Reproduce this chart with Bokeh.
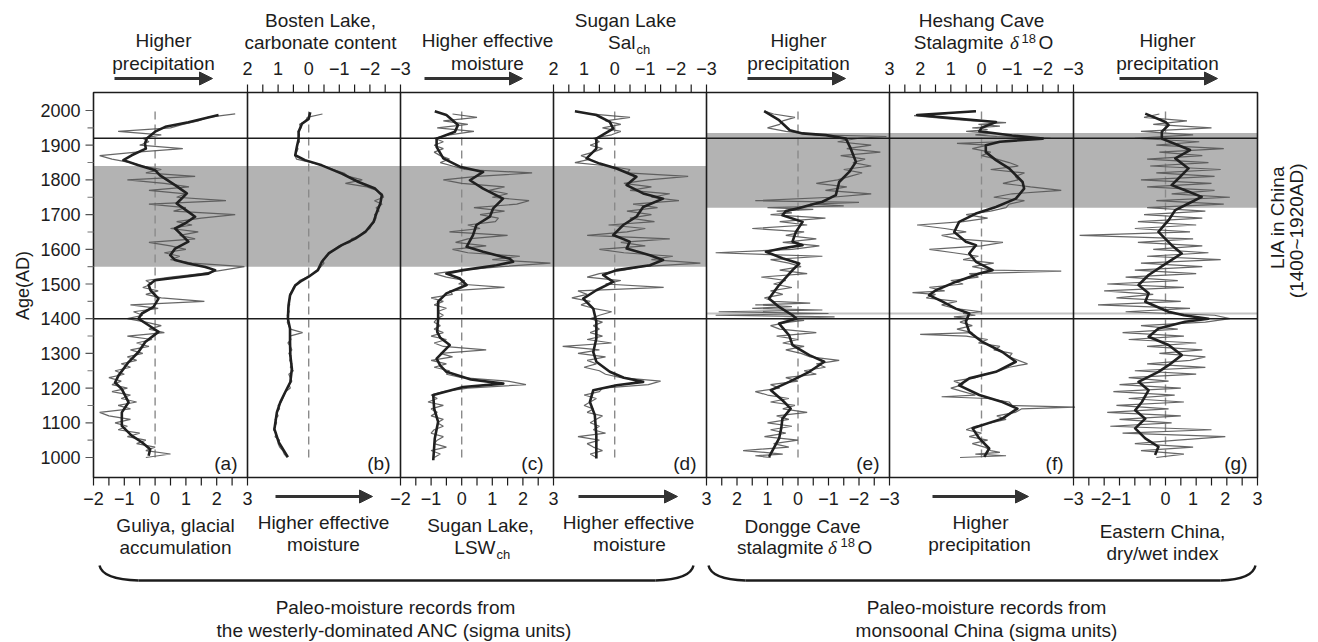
from math import pi
import numpy as np
from bokeh.plotting import figure
from bokeh.models import Range1d, Arrow, NormalHead
from bokeh.embed import file_html
from bokeh.resources import INLINE
from bokeh.core.properties import value

W, H = 1318, 642

# ------------------------------------------------------------------ data
DECADES = list(range(1000, 2000, 10))

# (a) Guliya glacial accumulation
A_RAW = [-0.3, 0.5, -0.3, 0.0, -0.6, -0.3, -0.9, -0.5, -1.2, -0.9,
         -1.3, -0.8, -1.5, -1.8, -0.8, -1.2, -0.6, -1.1, -0.8, -1.4,
         -0.9, -1.4, -1.1, -1.5, -1.0, -1.3, -0.8, -1.1, -0.6, -0.9,
         -0.4, -0.8, -0.2, -0.6, -0.1, -0.9, 0.3, -0.2, 0.2, -0.3,
         -0.9, -0.4, -0.7, 0.1, -0.8, 1.6, 0.2, -0.3, 0.1, -0.4,
         -0.1, -0.3, 0.5, 1.5, 2.2, 2.9, 1.2, 0.5, 0.8, 0.3,
         1.0, 0.5, -0.2, 1.3, 0.8, 1.4, 0.5, 1.2, 0.7, 1.5,
         2.6, 0.6, 1.0, -0.2, 2.3, 0.7, 1.0, -0.2, 1.1, 0.3,
         -0.9, 1.3, -0.3, 0.2, -0.4, -0.8, -1.4, -1.8, -0.6, 0.9,
         -0.5, -0.2, -0.4, 0.2, -1.2, 0.5, 0.9, 1.4, 1.7, 2.6]
A_SM_YR = [1005, 1024, 1044, 1063, 1091, 1130, 1159, 1197, 1216, 1236, 1275, 1304, 1333, 1362,
           1381, 1400, 1415, 1434, 1458, 1482, 1497, 1511, 1520, 1530, 1540, 1549, 1559, 1569,
           1583, 1602, 1622, 1641, 1660, 1675, 1694, 1708, 1732, 1761, 1785, 1813, 1828, 1842,
           1857, 1871, 1890, 1905, 1919, 1939, 1953, 1966, 1987]
A_SM = [-0.21, -0.16, -0.43, -0.76, -1.08, -1.08, -0.86, -1.08, -1.3, -1.19, -0.86, -0.54, -0.32, 0.11,
        -0.21, -0.54, -0.43, -0.05, 0.11, -0.15, -0.21, 0.0, 0.87, 1.73, 1.95, 1.63, 1.08, 0.65,
        0.49, 0.65, 1.08, 0.87, 0.65, 0.98, 1.3, 1.08, 0.7, 1.03, 0.65, 0.16, 0.0, -0.54,
        -1.03, -0.76, -0.3, -0.33, -0.27, 0.0, 0.33, 1.08, 2.06]

# (b) Bosten Lake carbonate content
B_RAW = [0.7, 0.8, 0.85, 0.95, 1.0, 0.95, 1.1, 1.05, 1.15, 1.1,
         1.05, 1.1, 1.0, 1.05, 0.95, 1.0, 0.9, 0.85, 0.8, 0.75,
         0.6, 0.65, 0.55, 0.6, 0.65, 0.5, 0.6, 0.55, 0.62, 0.58,
         0.65, 0.55, 0.6, 0.68, 0.58, 0.62, 0.2, 0.6, 0.65, 0.7,
         0.66, 0.7, 0.64, 0.68, 0.62, 0.66, 0.6, 0.62, 0.55, 0.5,
         0.4, 0.3, 0.05, -0.15, -0.3, -0.4, -0.5, -0.45, -0.6, -0.7,
         -0.85, -1.0, -1.35, -1.4, -1.7, -1.8, -2.0, -2.05, -2.15, -2.2,
         -2.15, -2.3, -2.2, -2.4, -2.15, -2.45, -2.4, -2.2, -1.9, -1.2,
         -1.75, -1.3, -1.15, -0.8, -0.5, -0.1, 0.4, 0.45, 0.4, 0.35,
         0.4, 0.3, 0.35, 0.3, 0.35, 0.25, 0.3, 0.1, 0.05, -0.45]
B_SM_YR = [1001, 1044, 1082, 1130, 1159, 1188, 1217, 1256, 1294, 1333, 1371, 1400, 1438, 1467,
           1496, 1510, 1521, 1540, 1564, 1588, 1612, 1631, 1650, 1679, 1708, 1732, 1756, 1775,
           1794, 1818, 1842, 1857, 1871, 1894, 1918, 1939, 1962, 1976, 1995]
B_SM = [0.68, 0.98, 1.12, 1.04, 0.93, 0.77, 0.6, 0.55, 0.6, 0.61, 0.61, 0.68, 0.66, 0.61,
        0.44, 0.22, 0.0, -0.3, -0.43, -0.65, -1.08, -1.52, -1.85, -2.12, -2.23, -2.34, -2.39, -2.17,
        -1.63, -1.08, -0.43, 0.12, 0.44, 0.39, 0.33, 0.33, 0.22, 0.0, -0.05]

# (c) Sugan Lake LSWch
C_RAW = [-0.9, -0.7, -1.0, -0.5, -0.9, -0.8, -0.6, -1.0, -0.9, -0.6,
         -0.8, -0.6, -1.0, -0.8, -1.0, -0.6, -1.1, -0.8, -1.0, -0.6,
         0.2, 2.1, 1.5, 0.0, -0.5, -0.4, -0.9, -0.5, -1.0, -0.3,
         -0.7, 0.8, -0.6, -0.9, -0.5, -1.0, -0.6, -0.9, -0.7, -0.9,
         -0.8, -0.6, -0.8, -0.5, -0.9, -0.6, -1.0, -0.3, -0.4, 1.4,
         -0.1, 0.1, -0.5, -0.9, 0.0, 1.3, 2.9, 1.0, 1.9, 0.2,
         -0.3, 0.8, -0.2, 0.2, 1.5, -0.4, 0.6, 0.2, 1.1, 1.2,
         0.6, 1.4, 0.4, 1.8, 2.2, 1.0, 1.5, 0.9, 1.4, 0.0,
         -0.6, 0.5, 2.3, 0.1, -0.3, -0.7, -0.4, -0.7, -0.9, -0.6,
         -0.9, -0.6, -0.9, -0.4, 0.4, -0.8, 0.2, -0.6, 0.5, -0.3]
C_SM_YR = [992, 1055, 1103, 1141, 1180, 1203, 1213, 1225, 1247, 1265, 1285, 1305, 1324, 1345,
           1362, 1400, 1449, 1473, 1497, 1516, 1530, 1540, 1554, 1564, 1573, 1593, 1607, 1641,
           1670, 1694, 1718, 1746, 1775, 1799, 1823, 1838, 1862, 1895, 1919, 1939, 1958, 1987, 1998]
C_SM = [-0.93, -0.88, -0.77, -0.9, -0.93, 0.05, 1.36, 0.3, -0.5, -0.7, -0.82, -0.6, -0.39, -0.7,
        -0.8, -0.77, -0.77, -0.5, 0.16, -0.06, -0.5, 0.05, 1.14, 1.68, 1.57, 0.7, 0.16, 0.37,
        0.48, 0.92, 1.03, 1.35, 0.7, 0.27, 0.7, -0.06, -0.6, -0.82, -0.82, -0.22, -0.12, -0.5, -0.88]

# (d) Sugan Lake Salch
D_RAW = [0.6, 0.8, 0.4, 0.7, 0.9, 0.5, 1.2, 0.3, 0.7, 0.5,
         0.8, 0.6, 0.4, 0.9, 0.7, 1.0, 0.8, 0.6, 1.0, 0.5,
         0.4, -1.1, -1.5, -0.2, 0.3, 0.5, 1.0, 0.6, 0.9, 0.3,
         1.2, 0.5, 1.7, 0.1, 0.9, 0.4, 0.8, 0.5, 0.7, 0.4,
         0.8, 0.5, 0.1, 0.7, 1.1, 0.8, 1.4, 0.9, 1.2, -1.6,
         0.3, -0.2, 0.9, 0.5, -0.3, -0.9, -2.8, -1.2, -1.9, -0.3,
         0.5, -1.0, -0.2, -1.8, 0.9, -0.4, -1.0, 0.2, -1.3, -0.5,
         -1.2, -0.4, -1.4, -0.6, -2.1, -1.2, -1.8, -0.5, -1.2, -0.3,
         -1.1, -2.4, -0.4, -0.5, 0.2, 1.3, 0.8, 1.1, 0.7, 0.4,
         0.8, 0.5, 0.7, 0.1, -0.2, 0.4, -0.2, 0.3, -0.5, 0.8]
D_SM_YR = [997, 1064, 1122, 1160, 1194, 1208, 1218, 1230, 1247, 1276, 1304, 1343, 1391, 1429,
           1458, 1482, 1506, 1526, 1540, 1554, 1569, 1583, 1602, 1622, 1641, 1670, 1694, 1722,
           1746, 1761, 1785, 1809, 1833, 1847, 1862, 1890, 1919, 1948, 1967, 1987, 1998]
D_SM = [0.6, 0.6, 0.65, 0.81, 0.7, -0.06, -0.93, -0.3, 0.16, 0.6, 0.7, 0.6, 0.6, 0.7,
        1.03, 0.6, 0.05, 0.38, -0.06, -1.15, -1.58, -1.15, -0.39, -0.49, 0.05, -0.28, -0.71, -0.93,
        -1.58, -0.93, -0.39, -0.71, -0.06, 0.49, 0.92, 0.6, 0.6, 0.05, 0.16, 0.6, 1.3]

# (e) Dongge Cave stalagmite d18O
E_RAW_YR = [1000, 1005, 1010, 1020, 1030, 1040, 1050, 1060, 1070, 1080,
            1090, 1100, 1110, 1120, 1130, 1140, 1150, 1160, 1170, 1180,
            1190, 1200, 1210, 1220, 1230, 1240, 1250, 1260, 1270, 1280,
            1290, 1300, 1310, 1320, 1330, 1340, 1350, 1360, 1370, 1380,
            1390, 1395, 1400, 1405, 1410, 1415, 1420, 1425, 1430, 1435,
            1440, 1445, 1450, 1460, 1470, 1480, 1490, 1500, 1510, 1520,
            1530, 1540, 1550, 1560, 1570, 1580, 1590, 1600, 1610, 1620,
            1630, 1640, 1650, 1660, 1670, 1680, 1690, 1700, 1705, 1710,
            1715, 1720, 1725, 1730, 1735, 1740, 1750, 1760, 1770, 1780,
            1790, 1800, 1810, 1820, 1830, 1840, 1850, 1860, 1870, 1880,
            1890, 1900, 1910, 1920, 1925, 1930, 1940, 1950, 1960, 1970,
            1980, 1990, 1998]
E_RAW = [0.9, 1.4, 0.5, 1.8, 0.3, 0.8, 0.0, 1.1, 0.4, 0.9,
         0.2, 1.0, 0.3, 0.7, -0.3, 0.5, 0.1, 0.9, 0.3, 1.0,
         1.4, 0.6, 0.9, 0.0, 0.4, -0.6, -0.2, -0.9, -0.6, -1.35,
         -0.4, -0.1, 0.4, -0.2, 0.5, 0.0, 0.7, -0.6, 0.6, 0.9,
         0.3, -0.2, 0.5, -1.2, 2.7, -1.0, 2.6, -0.8, 1.5, 0.2,
         1.4, -0.4, 0.8, 1.1, 0.5, 0.9, 0.2, 0.8, 0.4, 1.2,
         -0.3, 0.6, -0.1, 0.3, 0.9, -0.8, 2.7, 0.2, -0.7, 0.5,
         -0.6, 0.4, -0.2, 1.5, -0.3, 0.6, -0.9, 0.9, 0.2, 0.7,
         -0.5, 1.0, -1.5, -0.4, -2.0, 1.4, -1.1, -2.4, -0.9, -1.6,
         -0.6, -1.3, -1.7, -2.1, -1.5, -2.4, -1.8, -2.2, -1.4, -2.7,
         -1.6, -2.4, -1.3, -2.0, -2.9, -0.6, 0.4, 1.0, 0.6, 0.5,
         0.1, 0.8, 1.1]
E_SM_YR = [1002, 1055, 1084, 1112, 1141, 1165, 1194, 1218, 1247, 1276, 1295, 1324, 1352, 1386,
           1400, 1410, 1434, 1458, 1497, 1540, 1559, 1574, 1593, 1603, 1612, 1622, 1650, 1679,
           1698, 1710, 1719, 1727, 1737, 1756, 1794, 1823, 1852, 1890, 1919, 1929, 1934, 1943,
           1972, 1998]
E_SM = [0.95, 0.62, 0.55, 0.51, 0.24, 0.51, 0.89, 0.29, -0.37, -0.86, -0.37, 0.18, 0.29, 0.62,
        0.05, 0.18, 0.62, 0.95, 0.62, 0.18, -0.04, 0.51, 1.05, 0.5, -0.15, 0.18, 0.07, -0.15,
        0.51, 0.4, -0.04, -0.37, -0.8, -1.24, -1.35, -1.68, -1.9, -1.73, -1.57, -0.91, -0.15, 0.27,
        0.62, 1.11]

# (f) Heshang Cave stalagmite d18O
F_RAW_YR = [1000, 1005, 1010, 1015, 1020, 1030, 1040, 1050, 1060, 1070,
            1080, 1090, 1100, 1110, 1120, 1130, 1140, 1145, 1150, 1160,
            1170, 1175, 1180, 1190, 1200, 1210, 1220, 1230, 1240, 1250,
            1260, 1270, 1280, 1290, 1300, 1310, 1320, 1330, 1340, 1350,
            1355, 1360, 1370, 1380, 1390, 1400, 1405, 1410, 1415, 1420,
            1430, 1440, 1450, 1460, 1470, 1475, 1480, 1490, 1500, 1510,
            1520, 1530, 1537, 1540, 1550, 1560, 1570, 1580, 1590, 1600,
            1610, 1620, 1630, 1640, 1650, 1660, 1670, 1680, 1690, 1700,
            1710, 1720, 1730, 1740, 1750, 1760, 1770, 1780, 1790, 1800,
            1810, 1820, 1830, 1840, 1850, 1860, 1870, 1880, 1890, 1900,
            1905, 1910, 1915, 1920, 1925, 1930, 1935, 1940, 1945, 1950,
            1955, 1960, 1965, 1970, 1975, 1980, 1985, 1990, 1995, 1998]
F_RAW = [0.7, -0.8, 0.2, -0.6, -0.3, -0.1, 0.3, -0.2, 0.4, 0.0,
         0.5, 0.2, -0.3, -0.8, -0.5, -1.1, -1.3, -3.05, -1.0, -0.9,
         -0.2, 1.3, 0.2, 0.6, 1.0, 0.6, 0.9, 0.2, -0.1, -0.6,
         -0.9, -1.5, -1.2, -0.9, -1.0, -0.4, -0.6, 0.1, -0.2, 0.5,
         2.0, 0.3, 0.8, 0.3, 0.7, 0.4, 0.9, 0.2, 0.6, 0.0,
         0.9, 1.3, 0.8, 1.8, 1.5, 2.25, 1.2, 1.7, 0.6, 1.0,
         0.1, 0.4, -2.6, -0.3, 0.3, -0.4, 0.6, 0.1, 0.9, 1.7,
         0.0, -0.7, 0.8, 1.3, 0.5, 1.2, 2.1, 0.6, -0.2, 0.5,
         -0.3, -0.8, -0.9, -1.4, -0.4, -1.0, -2.6, -1.6, -0.7, -1.2,
         -1.1, -1.4, -0.3, -1.2, -0.9, -0.5, 0.0, -0.3, 0.3, -0.2,
         0.8, -0.6, -1.3, -2.26, -0.5, 0.2, -0.3, 0.5, -0.2, 0.3,
         -0.6, 0.1, -0.8, 0.3, 1.0, 1.6, 2.2, 1.2, 0.8, 0.2]
F_SM_YR = [1002, 1026, 1055, 1084, 1112, 1141, 1160, 1180, 1208, 1228, 1247, 1276, 1304, 1333,
           1362, 1391, 1415, 1429, 1449, 1468, 1482, 1506, 1530, 1540, 1564, 1588, 1612, 1622,
           1650, 1679, 1703, 1722, 1746, 1775, 1794, 1833, 1857, 1880, 1900, 1910, 1919, 1928,
           1940, 1950, 1967, 1987, 1998]
F_SM = [-0.09, -0.25, 0.07, 0.29, -0.68, -1.17, -0.68, 0.07, 0.73, 0.4, -0.47, -1.12, -0.68, -0.03,
        0.4, 0.51, 0.4, 0.84, 1.27, 1.71, 1.49, 0.84, 0.07, -0.36, 0.18, 0.4, 0.18, 0.51,
        0.89, 0.73, 0.18, -0.47, -1.12, -1.39, -1.34, -0.9, -0.47, -0.14, -0.14, -0.6, -2.0, -1.0,
        0.07, 0.0, -0.47, 2.1, 0.18]

# (g) Eastern China dry/wet index
G_RAW = [-0.3, 0.6, -0.8, 0.9, -1.0, 0.4, 1.95, -1.4, 1.5, -1.8,
         0.2, -1.5, 0.5, -1.9, 0.1, -1.6, 0.6, -1.2, 0.3, -1.7,
         0.5, -1.5, 0.1, -1.2, 1.0, -1.0, 1.3, -0.6, 0.8, 1.3,
         -0.2, 1.2, -0.6, 1.0, -1.2, 0.6, -1.4, 0.4, -0.8, 1.3,
         2.1, 1.6, -1.3, 0.8, -2.2, 0.5, -1.6, -0.4, -2.0, 0.6,
         -1.9, 0.4, -1.3, 1.0, -1.0, 1.2, -0.8, 1.8, -0.6, 1.4,
         -0.4, 1.2, -0.9, 0.9, -2.8, 0.8, -1.0, 1.0, -0.9, 1.2,
         -0.7, 1.3, -0.6, 1.9, -0.3, 2.1, 0.2, 1.6, -0.6, 1.5,
         -0.8, 1.6, -0.3, 1.8, -0.5, 1.4, -0.6, 1.2, -0.2, 1.9,
         -0.3, 1.1, -1.0, 0.9, -0.8, 1.5, -0.4, 0.7, -0.7, -0.2]
G_SM_YR = [1007, 1031, 1055, 1084, 1112, 1136, 1160, 1194, 1218, 1247, 1266, 1295, 1324, 1348,
           1372, 1391, 1400, 1410, 1420, 1449, 1473, 1497, 1526, 1564, 1588, 1612, 1650, 1684,
           1713, 1732, 1751, 1770, 1785, 1804, 1833, 1862, 1886, 1900, 1919, 1939, 1958, 1967, 1991]
G_SM = [-0.34, -0.23, -0.66, -0.99, -0.66, -0.99, -0.77, -0.55, -0.88, -0.23, 0.1, 0.53, 0.1, -0.55,
        -0.23, 0.64, 1.4, 0.6, 0.1, -0.66, -0.55, -0.88, -0.55, 0.1, 0.53, 0.2, -0.23, 0.1,
        0.32, 0.75, 1.18, 0.64, 0.2, 0.42, 0.75, 0.32, 0.8, 0.42, -0.12, -0.12, 0.1, 0.0, -0.66]

# tick labels
TICKS_A = [-2, -1, 0, 1, 2, 3]
TICKS_B = [2, 1, 0, -1, -2, -3]
TICKS_C = [-2, -1, 0, 1, 2, 3]
TICKS_D = [2, 1, 0, -1, -2, -3]
TICKS_E = [3, 2, 1, 0, -1, -2, -3]
TICKS_F = [3, 2, 1, 0, -1, -2, -3]
TICKS_G = [-3, -2, -1, 0, 1, 2, 3]
TICKS_G_POS = [-3, -2.1, -1.45, 0, 0.9, 1.95, 3]
AGE_TICKS = list(range(1000, 2001, 100))
AGE_MINOR = list(range(1050, 2000, 100))

LIA_LINES = [1400, 1920]
BAND_WEST = (1550, 1840)
BAND_MONSOON = (1720, 1935)
THIN_LINE_MONSOON = 1415

# ------------------------------------------------------------------ layout
Y2000, Y1000 = 110, 457
FT, FB, FL, FR = 92, 477, 93, 1257
PANELS = [  # name, left px, right px, value at left, value at right, tick side
    ("a", 93, 247, -2, 3, "bottom"),
    ("b", 247, 400, 2, -3, "top"),
    ("c", 400, 553, -2, 3, "bottom"),
    ("d", 553, 706, 2, -3, "top"),
    ("e", 706, 889, 3, -3, "bottom"),
    ("f", 889, 1073, 3, -3, "top"),
    ("g", 1073, 1257, -3, 3, "bottom"),
]
SERIES = {
    "a": (DECADES, A_RAW, A_SM_YR, A_SM),
    "b": (DECADES, B_RAW, B_SM_YR, B_SM),
    "c": (DECADES, C_RAW, C_SM_YR, C_SM),
    "d": (DECADES, D_RAW, D_SM_YR, D_SM),
    "e": (E_RAW_YR, E_RAW, E_SM_YR, E_SM),
    "f": (F_RAW_YR, F_RAW, F_SM_YR, F_SM),
    "g": (DECADES, G_RAW, G_SM_YR, G_SM),
}
TICKLABELS = {"a": (TICKS_A, TICKS_A), "b": (TICKS_B, TICKS_B), "c": (TICKS_C, TICKS_C),
              "d": (TICKS_D, TICKS_D), "e": (TICKS_E, TICKS_E), "f": (TICKS_F, TICKS_F),
              "g": (TICKS_G, TICKS_G_POS)}

INK = "#1c1c1c"
RAW_C = "#555555"
SM_C = "#202020"
BAND_C = "#b3b3b3"
FONT = value("Liberation Sans")

p = figure(width=W, height=H, x_range=Range1d(0, W), y_range=Range1d(H, 0),
           output_backend="svg", toolbar_location=None, min_border=0,
           x_axis_type=None, y_axis_type=None)
p.outline_line_color = None
p.background_fill_color = "white"
p.border_fill_color = "white"

ppy = (Y1000 - Y2000) / 1000.0
p.extra_y_ranges = {"age": Range1d(start=1000 - (H - Y1000) / ppy, end=2000 + Y2000 / ppy)}
xr = {}
for name, L, R, v0, v1, side in PANELS:
    k = (v1 - v0) / (R - L)
    xr[name] = Range1d(start=v0 - L * k, end=v0 + (W - L) * k)
p.extra_x_ranges = xr


def txt(x, y, s, size=19, align="center", baseline="middle", angle=0.0, font=FONT,
        style="normal", **kw):
    p.text(x=[x], y=[y], text=[s], text_font=font, text_font_size=f"{size}px",
           text_align=align, text_baseline=baseline, angle=angle, text_color=INK,
           text_font_style=style, **kw)


def fmt(v):
    return ("\u2212" + str(abs(v))) if v < 0 else str(v)


# shaded bands
for name, L, R, v0, v1, side in PANELS:
    band = BAND_WEST if name in "abcd" else BAND_MONSOON
    p.quad(left=[v0], right=[v1], bottom=[band[0]], top=[band[1]], x_range_name=name,
           y_range_name="age", fill_color=BAND_C, line_color=None)

# thin light line in monsoon panels
p.segment(x0=[706], x1=[FR], y0=[THIN_LINE_MONSOON], y1=[THIN_LINE_MONSOON],
          y_range_name="age", line_color="#c4c4c4", line_width=2)

# zero dashed lines and series
for name, L, R, v0, v1, side in PANELS:
    p.segment(x0=[0], x1=[0], y0=[1000], y1=[2000], x_range_name=name, y_range_name="age",
              line_color="#8a8a8a", line_width=1.4, line_dash="8 5")
    ry, rv, sy, sv = SERIES[name]
    p.line(x=rv, y=ry, x_range_name=name, y_range_name="age", line_color=RAW_C,
           line_width=1.2, line_alpha=0.9)
    p.line(x=sv, y=sy, x_range_name=name, y_range_name="age", line_color=SM_C, line_width=2.6,
           line_join="round")

# LIA boundary lines
p.segment(x0=[FL] * 2, x1=[FR] * 2, y0=LIA_LINES, y1=LIA_LINES, y_range_name="age",
          line_color=INK, line_width=1.6)

# frame + separators
p.quad(left=[FL], right=[FR], top=[FT], bottom=[FB], fill_color=None, line_color=INK,
       line_width=1.6)
seps = [pn[2] for pn in PANELS[:-1]]
p.segment(x0=seps, x1=seps, y0=[FT] * len(seps), y1=[FB] * len(seps), line_color=INK,
          line_width=1.6)

# x ticks
for name, L, R, v0, v1, side in PANELS:
    lo, hi = min(v0, v1), max(v0, v1)
    tv = list(np.arange(lo, hi + 0.01, 0.5))
    if side == "top":
        y0, y1, ly = FT, FT - 8, 68
    else:
        y0, y1, ly = FB, FB + 8, 498
    p.segment(x0=tv, x1=tv, y0=[y0] * len(tv), y1=[y1] * len(tv), x_range_name=name,
              line_color=INK, line_width=1.2)
    labs, pos = TICKLABELS[name]
    p.text(x=pos, y=[ly] * len(pos), text=[fmt(v) for v in labs], x_range_name=name,
           text_font=FONT, text_font_size="18px", text_align="center",
           text_baseline="middle", text_color=INK)

# y ticks
p.segment(x0=[FL - 8] * len(AGE_TICKS), x1=[FL] * len(AGE_TICKS), y0=AGE_TICKS, y1=AGE_TICKS,
          y_range_name="age", line_color="#555555", line_width=1.2)
p.segment(x0=[FL - 6] * len(AGE_MINOR), x1=[FL] * len(AGE_MINOR), y0=AGE_MINOR, y1=AGE_MINOR,
          y_range_name="age", line_color="#777777", line_width=1.1)
p.text(x=[80] * len(AGE_TICKS), y=AGE_TICKS, text=[str(t) for t in AGE_TICKS],
       y_range_name="age", text_font=FONT, text_font_size="18px", text_align="right",
       text_baseline="middle", text_color=INK)
txt(22, 285, "Age(AD)", size=18, angle=pi / 2)

# panel letters
for name, L, R, v0, v1, side in PANELS:
    txt(R - 10, 463, f"({name})", align="right")


def arrow(x0, x1, y):
    p.add_layout(Arrow(end=NormalHead(size=13, fill_color="#333333", line_color="#333333"),
                       x_start=x0, y_start=y, x_end=x1, y_end=y, line_width=3,
                       line_color="#333333"))


# top annotations
txt(163, 40, "Higher"); txt(163, 63, "precipitation"); arrow(114, 212, 78)
txt(320, 20, "Bosten Lake,"); txt(320, 42, "carbonate content")
txt(487, 40, "Higher effective"); txt(487, 63, "moisture"); arrow(424, 522, 78)
txt(625, 20, "Sugan Lake")
txt(635, 42, "Sal", align="right"); txt(636, 49, "ch", size=13, align="left")
txt(798, 40, "Higher"); txt(798, 63, "precipitation"); arrow(747, 845, 78)
txt(981, 20, "Heshang Cave")
txt(1003, 42, "Stalagmite", align="right")
txt(1014, 42, "\u03b4", font=value("Liberation Serif"), style="italic")
txt(1021, 38, "18", size=13, align="left")
txt(1038, 42, "O", align="left")
txt(1167, 40, "Higher"); txt(1167, 63, "precipitation"); arrow(1119, 1217, 78)

# bottom annotations
txt(175, 525, "Guliya, glacial"); txt(175, 547, "accumulation")
arrow(275, 372, 496); txt(323, 522, "Higher effective"); txt(323, 544, "moisture")
txt(480, 525, "Sugan Lake,")
txt(495, 547, "LSW", align="right"); txt(496, 554, "ch", size=13, align="left")
arrow(578, 677, 496); txt(628, 522, "Higher effective"); txt(629, 544, "moisture")
txt(802, 526, "Dongge Cave")
txt(823, 547, "stalagmite", align="right")
txt(832, 547, "\u03b4", font=value("Liberation Serif"), style="italic")
txt(840, 542, "18", size=13, align="left")
txt(857, 547, "O", align="left")
arrow(932, 1028, 496); txt(980, 522, "Higher"); txt(979, 544, "precipitation")
txt(1162, 531, "Eastern China,"); txt(1162, 553, "dry/wet index")

# right side label (both lines end at the same height)
txt(1277, 165, "LIA in China", angle=pi / 2, align="right")
txt(1296, 163, "(1400~1920AD)", angle=pi / 2, align="right")

# braces
BR = dict(line_color=INK, line_width=2.4)
p.quadratic(x0=[99], y0=[565], x1=[138], y1=[580], cx=[102], cy=[579], **BR)
p.segment(x0=[138], x1=[655], y0=[580], y1=[580], **BR)
p.quadratic(x0=[655], y0=[580], x1=[693], y1=[565], cx=[690], cy=[579], **BR)
p.quadratic(x0=[708], y0=[565], x1=[745], y1=[580], cx=[711], cy=[579], **BR)
p.segment(x0=[745], x1=[1220], y0=[580], y1=[580], **BR)
p.quadratic(x0=[1220], y0=[580], x1=[1255], y1=[565], cx=[1252], cy=[579], **BR)

txt(395, 607, "Paleo-moisture records from")
txt(394, 630, "the westerly-dominated ANC (sigma units)")
txt(986, 607, "Paleo-moisture records from")
txt(986, 630, "monsoonal China (sigma units)")

open("out.html", "w").write(file_html(p, INLINE))
